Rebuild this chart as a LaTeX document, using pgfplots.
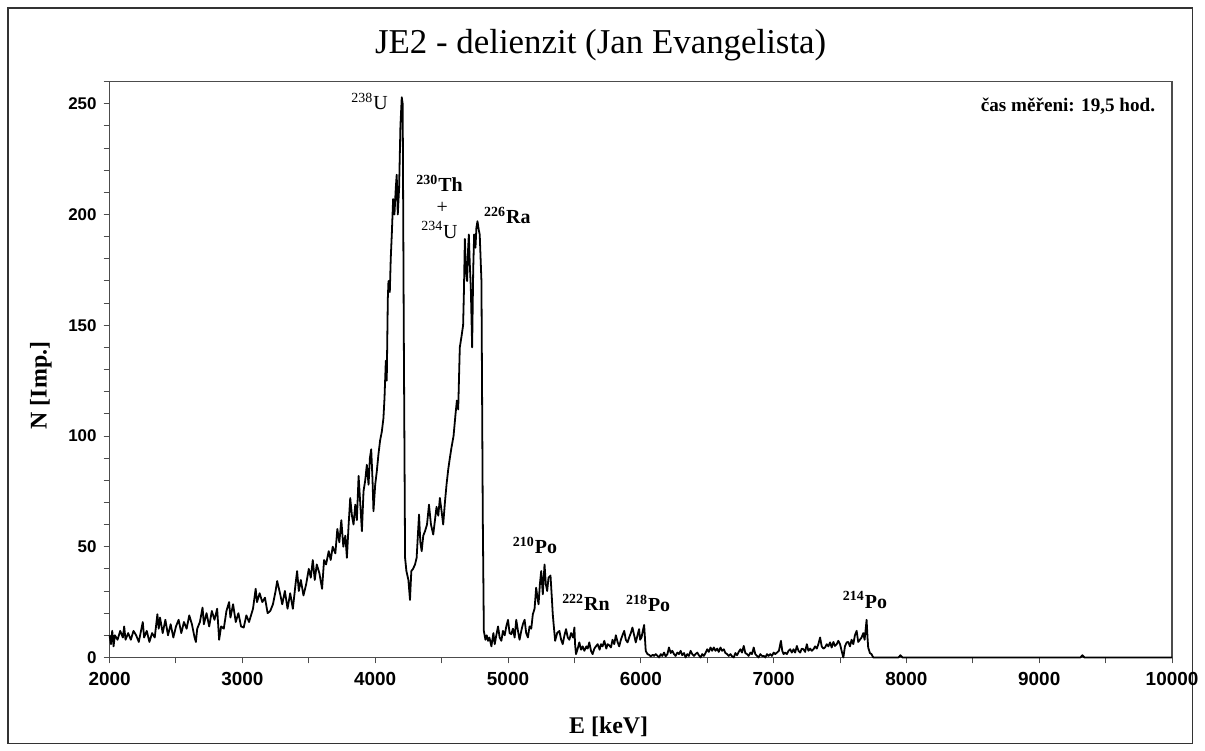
\documentclass[border=0pt]{standalone}
\usepackage{pgfplots}
\pgfplotsset{compat=1.18}
\usepackage{fontspec}
\setmainfont{Liberation Serif}
\setsansfont{Liberation Sans}
\pgfplotstableread{
E N
2000 10
2010 6
2020 12
2030 5
2040 10
2060 8
2080 12
2100 9
2110 14
2120 8
2140 11
2160 8
2180 12
2200 10
2220 7
2240 13
2250 16
2260 9
2280 12
2300 7
2320 11
2340 9
2360 19.5
2370 13
2380 18
2400 11
2420 17
2440 10
2460 15
2480 9
2500 14
2520 17
2540 11
2560 16
2580 13
2600 19
2620 15
2640 9
2650 7
2660 13
2680 16
2700 22.5
2710 15
2730 20
2750 14
2770 21
2790 17
2810 22
2825 8
2840 14
2860 13
2880 21
2900 25
2910 18
2930 24
2950 16
2970 20
2990 14
3010 13.5
3030 19
3050 16
3060 18
3080 22
3100 31
3110 25
3130 29
3150 25
3170 27
3190 20
3210 21
3230 24
3250 30
3262 34.5
3285 28.5
3300 24
3320 30
3340 22
3360 29
3380 22
3400 33
3412 39
3425 30
3440 35
3460 28
3480 33
3500 40
3515 36
3530 44
3545 35
3560 42
3580 38
3600 31
3615 44
3630 42
3650 48
3665 44
3680 50
3700 47
3715 58
3730 52
3745 62
3760 50
3775 55
3787 45
3800 60
3812 72
3825 64
3837 60
3850 69
3862 62
3875 82
3887 70
3900 57
3912 75
3925 80
3937 87
3950 78
3960 90
3970 94
3980 80
3987 66
4000 78
4012 84
4025 92
4037 98
4050 102
4062 108
4070 117
4080 134
4087 125
4095 162
4100 170
4110 165
4117 180
4125 191
4135 207
4145 200
4155 212
4162 218
4170 200
4180 212
4190 240
4200 253
4207 250
4215 150
4225 45
4235 39
4250 35
4262 26
4272 39
4285 40
4300 42
4312 45
4330 64.5
4340 52
4350 48
4362 55
4375 57
4390 60
4405 69
4420 60
4437 55.5
4450 62
4462 68
4475 64
4487 72
4500 66
4512 60
4525 70
4537 78
4550 85
4562 90
4575 95
4590 100
4605 110
4615 116
4625 112
4637 140
4650 145
4662 150
4668 165
4675 189
4683 175
4692 170
4700 185
4705 191
4712 178
4720 167
4730 140
4738 175
4745 191
4755 185
4762 194
4770 197
4780 193
4787 191
4800 170
4810 64
4818 12
4830 8
4840 10
4850 7.5
4860 9
4875 5
4890 11
4900 6
4912 10
4925 14
4937 9
4950 7.5
4962 12
4975 10
4987 14
5000 17
5012 11
5025 10.5
5037 13
5050 9
5062 17
5075 12
5087 8
5100 12
5112 15
5125 17
5137 11
5150 9
5162 14
5175 13
5187 19.5
5200 22
5212 31.5
5222 27
5230 24
5240 33
5250 39
5262 28.5
5275 42
5285 33
5295 30
5305 36
5320 37
5330 27
5337 19.5
5345 14
5355 7.5
5370 11
5387 12
5400 8
5412 6
5425 10
5437 12.8
5450 9
5462 8
5475 11
5490 9
5500 13.5
5505 6
5512 1.5
5525 4
5537 6.8
5550 3.5
5562 5
5575 3
5590 5
5600 4
5612 6.8
5625 3
5637 1.5
5650 4
5662 5
5675 6
5690 3.5
5700 6
5712 5
5725 7.5
5740 4
5750 6
5762 5.5
5775 4.5
5787 8
5800 6
5812 10
5825 7
5837 5
5850 8
5862 10
5875 12
5887 8
5900 6.8
5912 9
5925 11
5937 13.5
5950 10
5962 6.8
5975 10
5987 12.8
5995 8
6005 9
6015 12
6025 14.7
6037 3
6050 1.5
6062 1.2
6075 0.5
6090 1.2
6100 0.7
6112 1.5
6125 0.7
6137 0
6150 1.5
6162 0.7
6175 2.2
6187 0.5
6200 1.5
6212 4.5
6225 2
6237 3
6250 1.5
6262 0.7
6275 2.2
6287 1.5
6300 3
6312 1
6325 2
6337 0
6350 1.5
6362 0.7
6375 3
6387 1.5
6400 0.7
6412 1.5
6425 2.2
6437 1
6450 0
6462 1.5
6475 0.7
6487 2
6500 3.7
6512 2.5
6525 4.5
6537 3
6550 4.5
6562 3
6575 4
6587 2.5
6600 4.5
6612 3
6625 3.7
6637 2
6650 1.5
6662 0.7
6675 1.5
6687 0.5
6700 0
6712 2
6725 1
6737 2.5
6750 3.7
6762 2.2
6775 5.2
6787 2
6800 1.5
6812 0.7
6825 2.2
6837 1.5
6850 4.5
6862 1.5
6875 0.7
6887 0
6900 1.5
6912 0.7
6925 0.7
6937 0
6950 1.5
6962 0.7
6975 1.5
6987 0.7
7000 2.2
7012 1.5
7025 2.2
7040 3
7055 7.5
7065 3
7075 1.5
7087 2.2
7100 1.5
7112 3
7125 3.7
7137 2.2
7150 3.7
7162 2.2
7175 5.2
7187 3
7200 2.2
7212 4
7225 3.7
7237 2.5
7250 6
7262 3
7275 4
7287 3
7300 3.7
7312 5
7325 4
7337 6
7350 9
7362 5
7375 4
7387 4.5
7400 6
7412 5
7425 6.8
7437 4.5
7450 7
7462 5.2
7475 6
7487 7.5
7500 6
7512 3
7525 0
7537 5
7550 6.8
7562 7
7575 5
7587 8
7600 6
7612 10
7625 12
7637 7
7650 8
7662 9
7675 11
7685 8
7692 12
7700 17
7707 9
7712 4.5
7725 2
7737 1.5
7750 0
7940 0
7955 1
7970 0
9310 0
9325 1
9340 0
10000 0
}\spectrum
\begin{document}
\begin{tikzpicture}
\path (0,0) rectangle (602.5pt,376.5pt);
\draw[line width=0.6pt,black!80] (4pt,3.5pt) rectangle (598.5pt,372.5pt);
\node[font=\fontsize{17.5}{20}\selectfont] at (301.5pt,354pt) {JE2 - delienzit (Jan Evangelista)};
\node[font=\bfseries\fontsize{12}{14}\selectfont] at (305.5pt,11.5pt) {E [keV]};
\node[font=\bfseries\fontsize{12}{14}\selectfont, rotate=90] at (20.5pt,183pt) {N [Imp.]};
\begin{axis}[
  at={(55pt,46.5pt)}, anchor=south west,
  scale only axis, width=533.3pt, height=289pt,
  xmin=2000, xmax=10000, ymin=0, ymax=260,
  xtick={2000,3000,...,10000}, minor xtick={2500,3500,...,9500},
  ytick={0,50,...,250}, minor ytick={10,20,...,260},
  tick align=outside, xtick pos=bottom, ytick pos=left,
  major tick length=3pt, minor tick length=3pt,
  every tick/.style={black!70, line width=0.5pt},
  axis line style={black!70, line width=0.6pt},
  scaled x ticks=false, scaled y ticks=false,
  /pgf/number format/1000 sep={},
  /pgf/number format/assume math mode=true,
  xticklabel style={font=\sffamily\bfseries\fontsize{9.5}{11}\selectfont, yshift=-1pt},
  yticklabel style={font=\sffamily\bfseries\fontsize{8.5}{10}\selectfont},
  clip=false,
]
\addplot[black, line width=0.9pt, line join=round] table[x=E,y=N] {\spectrum};
\node[font=\fontsize{10}{11}\selectfont] at (axis cs:3957,251) {\textsuperscript{238}U};
\node[font=\bfseries\fontsize{10}{11}\selectfont] at (axis cs:4484,214) {\textsuperscript{230}Th};
\node[font=\fontsize{10}{11}\selectfont] at (axis cs:4505,203) {+};
\node[font=\fontsize{10}{11}\selectfont] at (axis cs:4484,193) {\textsuperscript{234}U};
\node[font=\bfseries\fontsize{10}{11}\selectfont] at (axis cs:4995,199.5) {\textsuperscript{226}Ra};
\node[font=\bfseries\fontsize{10}{11}\selectfont] at (axis cs:5203,50.5) {\textsuperscript{210}Po};
\node[font=\bfseries\fontsize{10}{11}\selectfont] at (axis cs:5587,25) {\textsuperscript{222}Rn};
\node[font=\bfseries\fontsize{10}{11}\selectfont] at (axis cs:6055,24.5) {\textsuperscript{218}Po};
\node[font=\bfseries\fontsize{10}{11}\selectfont] at (axis cs:7688,26) {\textsuperscript{214}Po};
\node[font=\bfseries\fontsize{9.6}{11}\selectfont, anchor=east, inner sep=0pt] at (axis cs:9875,249) {čas měřeni: 19,5 hod.};
\end{axis}
\end{tikzpicture}
\end{document}
